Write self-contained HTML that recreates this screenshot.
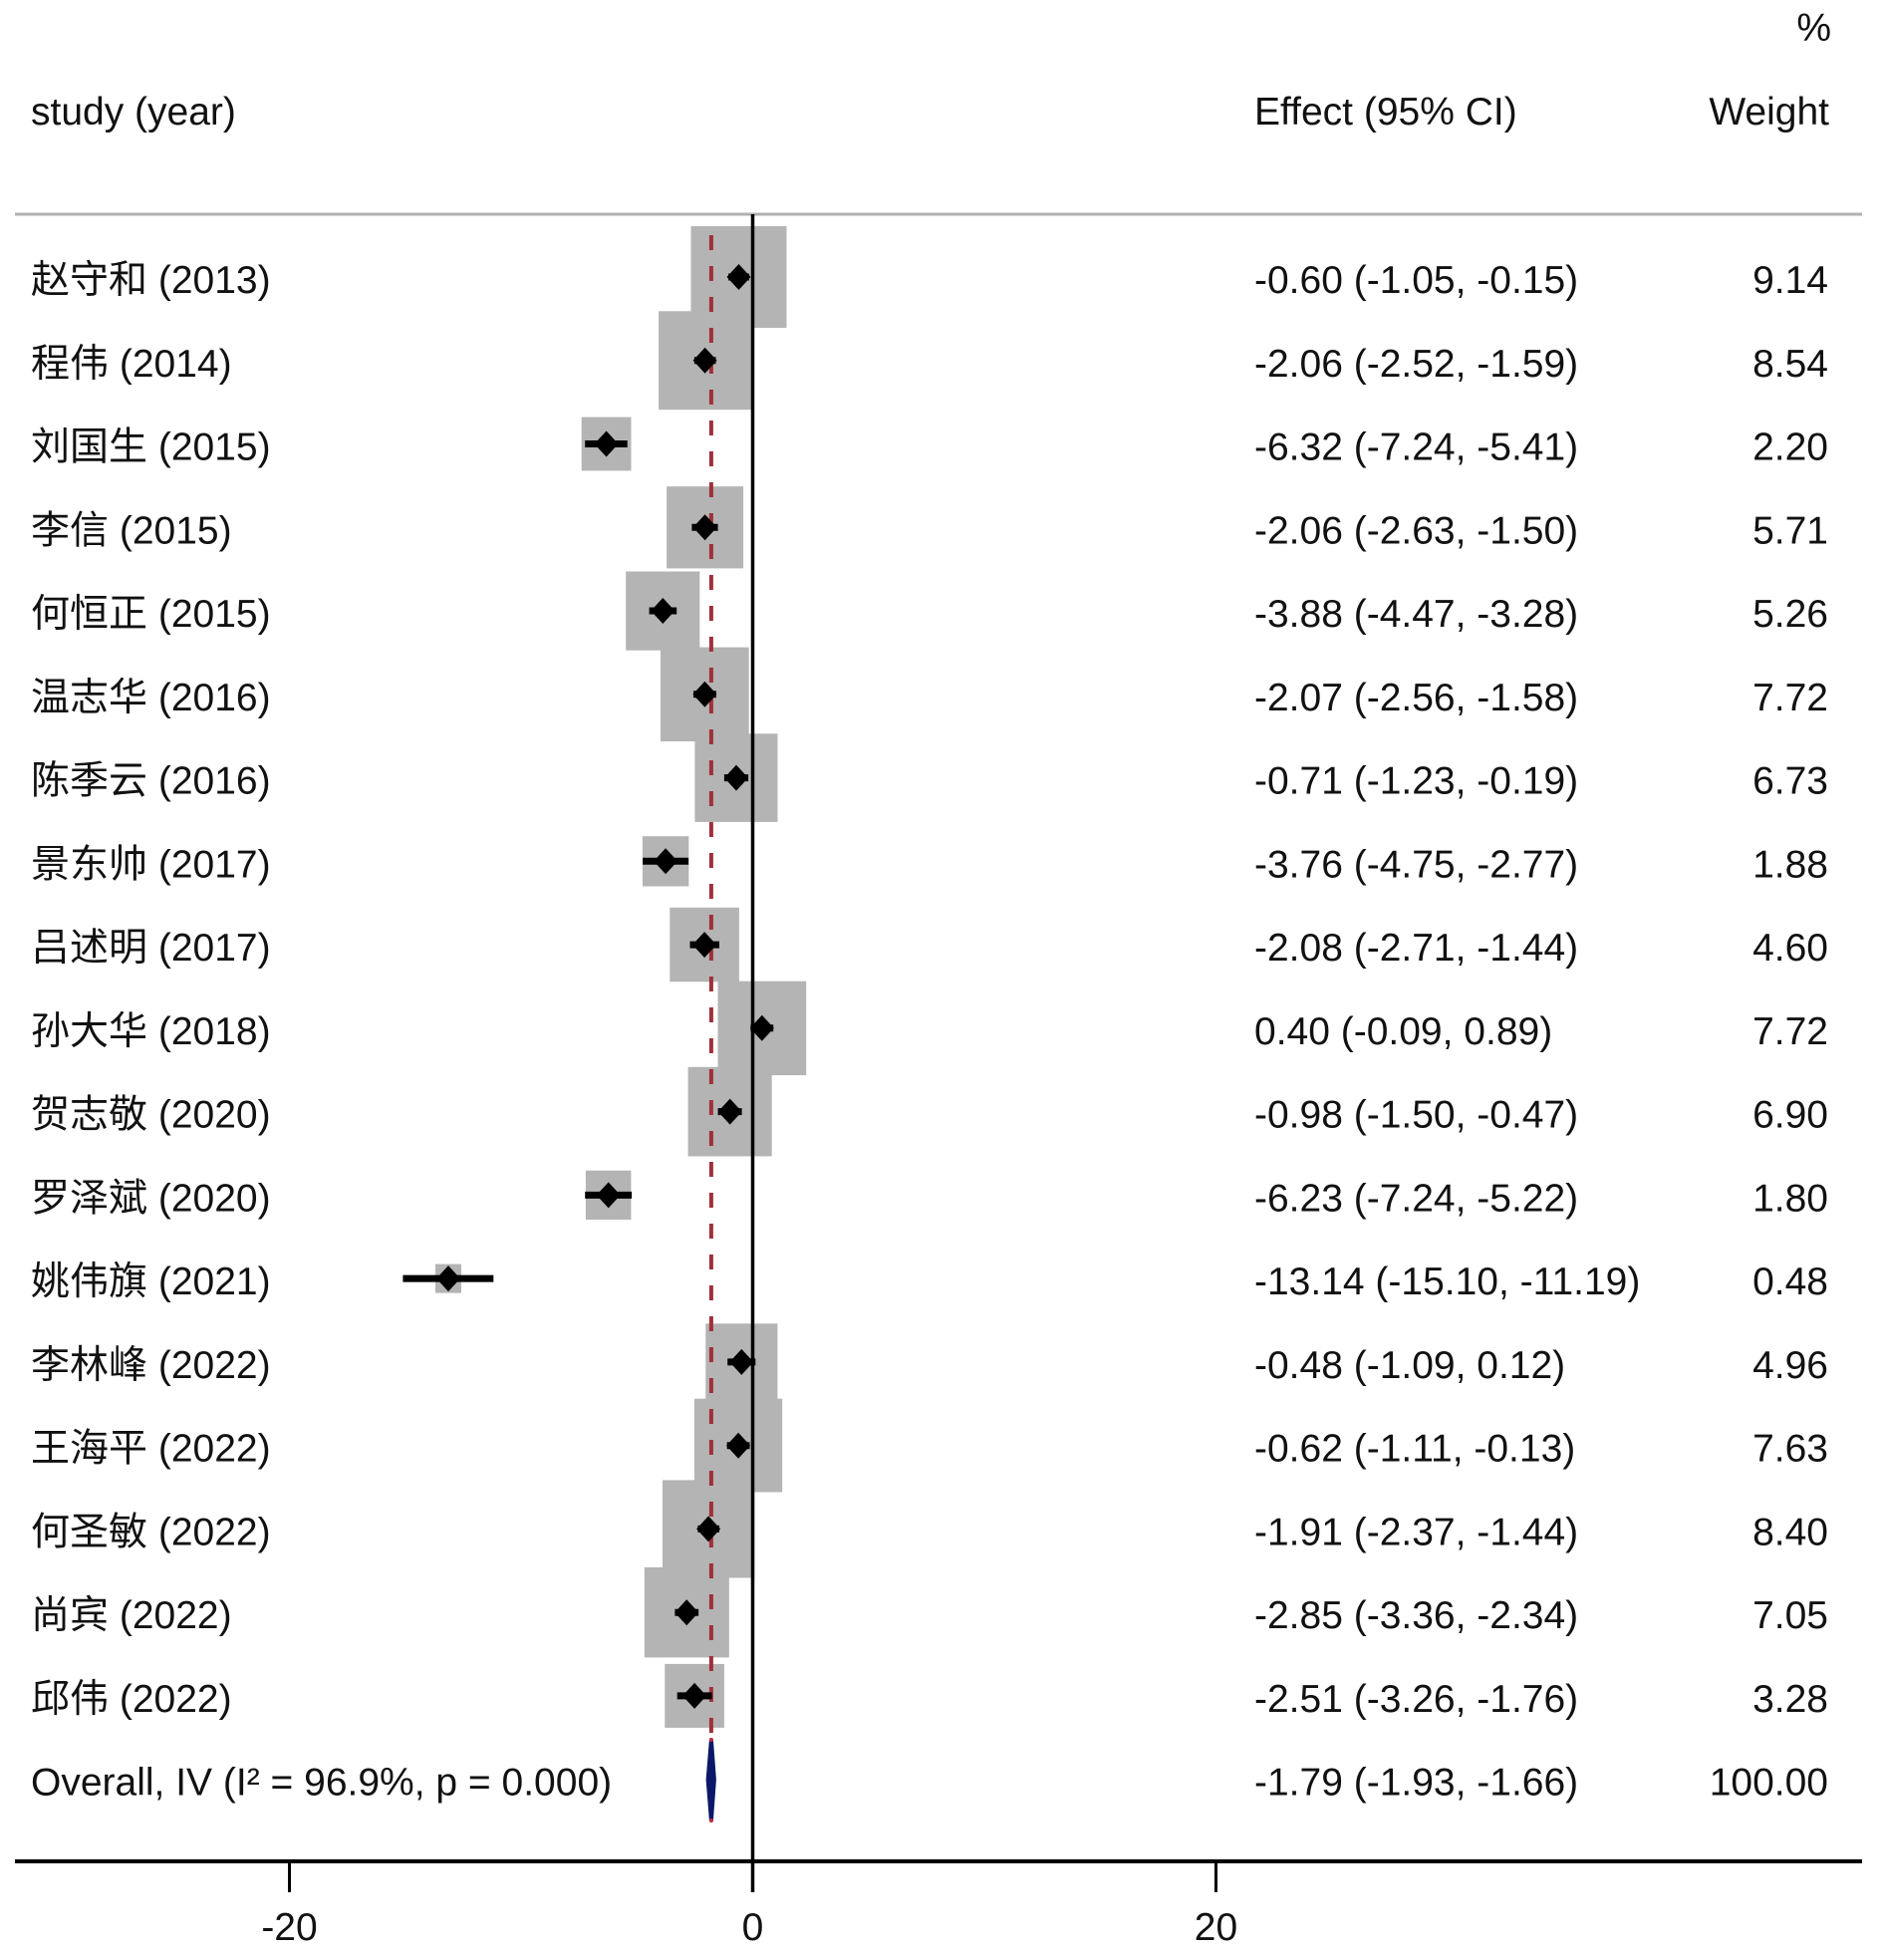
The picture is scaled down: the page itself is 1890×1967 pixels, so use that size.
<!DOCTYPE html>
<html>
<head>
<meta charset="utf-8">
<style>
html,body{margin:0;padding:0;background:#fff;}
svg{display:block;}
text{font-family:"Liberation Sans","Noto Sans CJK SC",sans-serif;font-size:39px;fill:#111;}
</style>
</head>
<body>
<svg width="1890" height="1967" viewBox="0 0 1890 1967" xmlns="http://www.w3.org/2000/svg">
<rect x="0" y="0" width="1890" height="1967" fill="#fff"/>
<!-- header -->
<text x="1838" y="41" text-anchor="end">%</text>
<text x="31" y="125">study (year)</text>
<text x="1259" y="125">Effect (95% CI)</text>
<text x="1836" y="125" text-anchor="end">Weight</text>
<line x1="15" y1="215" x2="1869" y2="215" stroke="#b0b0b0" stroke-width="3"/>

<g fill="#b4b4b4">
<rect x="693.5" y="227.0" width="96.0" height="102.0"/>
<rect x="661.1" y="312.3" width="93.0" height="98.9"/>
<rect x="583.7" y="418.6" width="49.8" height="53.8"/>
<rect x="669.1" y="488.2" width="77.0" height="82.2"/>
<rect x="628.2" y="573.5" width="74.1" height="79.2"/>
<rect x="663.0" y="649.6" width="88.7" height="94.4"/>
<rect x="697.4" y="736.3" width="83.1" height="88.6"/>
<rect x="644.9" y="839.2" width="46.4" height="50.3"/>
<rect x="672.3" y="910.8" width="69.6" height="74.5"/>
<rect x="720.5" y="984.7" width="88.7" height="94.4"/>
<rect x="690.6" y="1070.8" width="84.1" height="89.6"/>
<rect x="587.9" y="1174.7" width="45.5" height="49.3"/>
<rect x="437.0" y="1268.6" width="26.0" height="29.0"/>
<rect x="708.3" y="1328.3" width="72.1" height="77.1"/>
<rect x="697.0" y="1403.7" width="88.2" height="93.8"/>
<rect x="665.0" y="1485.4" width="92.3" height="98.1"/>
<rect x="646.8" y="1572.9" width="85.0" height="90.5"/>
<rect x="667.3" y="1669.9" width="59.6" height="64.0"/>
</g>

<!-- zero line -->
<line x1="755.5" y1="215" x2="755.5" y2="1899" stroke="#000" stroke-width="3.5"/>
<!-- dashed overall line -->
<line x1="713.9" y1="236" x2="713.9" y2="1746" stroke="#a0303a" stroke-width="4" stroke-dasharray="15 16"/>

<!-- CI lines -->
<g stroke="#000" stroke-width="7">
<line x1="731.1" y1="278" x2="752.0" y2="278"/>
<line x1="696.9" y1="361.8" x2="718.5" y2="361.8"/>
<line x1="587.2" y1="445.5" x2="629.7" y2="445.5"/>
<line x1="694.4" y1="529.3" x2="720.6" y2="529.3"/>
<line x1="651.6" y1="613" x2="679.2" y2="613"/>
<line x1="696.0" y1="696.8" x2="718.8" y2="696.8"/>
<line x1="726.9" y1="780.6" x2="751.1" y2="780.6"/>
<line x1="645.1" y1="864.3" x2="691.1" y2="864.3"/>
<line x1="692.5" y1="948.1" x2="722.0" y2="948.1"/>
<line x1="753.4" y1="1031.8" x2="776.2" y2="1031.8"/>
<line x1="720.6" y1="1115.6" x2="744.6" y2="1115.6"/>
<line x1="587.2" y1="1199.4" x2="634.1" y2="1199.4"/>
<line x1="404.4" y1="1283.1" x2="495.3" y2="1283.1"/>
<line x1="730.2" y1="1366.9" x2="758.3" y2="1366.9"/>
<line x1="729.7" y1="1450.7" x2="752.5" y2="1450.7"/>
<line x1="700.4" y1="1534.4" x2="722.0" y2="1534.4"/>
<line x1="677.4" y1="1618.2" x2="701.1" y2="1618.2"/>
<line x1="679.7" y1="1701.9" x2="714.6" y2="1701.9"/>
</g>

<!-- point diamonds -->
<g fill="#000">
<polygon points="729.5,278 741.5,265 753.5,278 741.5,291"/>
<polygon points="695.6,361.8 707.6,348.8 719.6,361.8 707.6,374.8"/>
<polygon points="596.6,445.5 608.6,432.5 620.6,445.5 608.6,458.5"/>
<polygon points="695.6,529.3 707.6,516.3 719.6,529.3 707.6,542.3"/>
<polygon points="653.3,613 665.3,600 677.3,613 665.3,626"/>
<polygon points="695.4,696.8 707.4,683.8 719.4,696.8 707.4,709.8"/>
<polygon points="727.0,780.6 739.0,767.6 751.0,780.6 739.0,793.6"/>
<polygon points="656.1,864.3 668.1,851.3 680.1,864.3 668.1,877.3"/>
<polygon points="695.1,948.1 707.1,935.1 719.1,948.1 707.1,961.1"/>
<polygon points="752.8,1031.8 764.8,1018.8 776.8,1031.8 764.8,1044.8"/>
<polygon points="720.7,1115.6 732.7,1102.6 744.7,1115.6 732.7,1128.6"/>
<polygon points="598.7,1199.4 610.7,1186.4 622.7,1199.4 610.7,1212.4"/>
<polygon points="438.0,1283.1 450.0,1270.1 462.0,1283.1 450.0,1296.1"/>
<polygon points="732.3,1366.9 744.3,1353.9 756.3,1366.9 744.3,1379.9"/>
<polygon points="729.1,1450.7 741.1,1437.7 753.1,1450.7 741.1,1463.7"/>
<polygon points="699.1,1534.4 711.1,1521.4 723.1,1534.4 711.1,1547.4"/>
<polygon points="677.2,1618.2 689.2,1605.2 701.2,1618.2 689.2,1631.2"/>
<polygon points="685.1,1701.9 697.1,1688.9 709.1,1701.9 697.1,1714.9"/>
</g>

<!-- overall diamond -->
<polygon points="710.6,1786 713.9,1746 716.9,1786 713.9,1827" fill="#0b1869" stroke="#0b1869" stroke-width="4" stroke-linejoin="round"/>
<circle cx="713.9" cy="1746" r="2" fill="#c03040"/>
<circle cx="713.9" cy="1827" r="2" fill="#c03040"/>

<!-- axis -->
<line x1="15" y1="1868" x2="1869" y2="1868" stroke="#000" stroke-width="4"/>
<line x1="290.5" y1="1868" x2="290.5" y2="1899" stroke="#000" stroke-width="3"/>
<line x1="1220.5" y1="1868" x2="1220.5" y2="1899" stroke="#000" stroke-width="3"/>
<text x="290.5" y="1947" text-anchor="middle">-20</text>
<text x="755.5" y="1947" text-anchor="middle">0</text>
<text x="1220.5" y="1947" text-anchor="middle">20</text>

<!-- labels -->
<g>
<text x="31" y="294">赵守和 (2013)</text>
<text x="31" y="377.8">程伟 (2014)</text>
<text x="31" y="461.5">刘国生 (2015)</text>
<text x="31" y="545.3">李信 (2015)</text>
<text x="31" y="629">何恒正 (2015)</text>
<text x="31" y="712.8">温志华 (2016)</text>
<text x="31" y="796.6">陈季云 (2016)</text>
<text x="31" y="880.3">景东帅 (2017)</text>
<text x="31" y="964.1">吕述明 (2017)</text>
<text x="31" y="1047.8">孙大华 (2018)</text>
<text x="31" y="1131.6">贺志敬 (2020)</text>
<text x="31" y="1215.4">罗泽斌 (2020)</text>
<text x="31" y="1299.1">姚伟旗 (2021)</text>
<text x="31" y="1382.9">李林峰 (2022)</text>
<text x="31" y="1466.7">王海平 (2022)</text>
<text x="31" y="1550.4">何圣敏 (2022)</text>
<text x="31" y="1634.2">尚宾 (2022)</text>
<text x="31" y="1717.9">邱伟 (2022)</text>
<text x="31" y="1801.7">Overall, IV (I² = 96.9%, p = 0.000)</text>
</g>

<g>
<text x="1259" y="294">-0.60 (-1.05, -0.15)</text>
<text x="1259" y="377.8">-2.06 (-2.52, -1.59)</text>
<text x="1259" y="461.5">-6.32 (-7.24, -5.41)</text>
<text x="1259" y="545.3">-2.06 (-2.63, -1.50)</text>
<text x="1259" y="629">-3.88 (-4.47, -3.28)</text>
<text x="1259" y="712.8">-2.07 (-2.56, -1.58)</text>
<text x="1259" y="796.6">-0.71 (-1.23, -0.19)</text>
<text x="1259" y="880.3">-3.76 (-4.75, -2.77)</text>
<text x="1259" y="964.1">-2.08 (-2.71, -1.44)</text>
<text x="1259" y="1047.8">0.40 (-0.09, 0.89)</text>
<text x="1259" y="1131.6">-0.98 (-1.50, -0.47)</text>
<text x="1259" y="1215.4">-6.23 (-7.24, -5.22)</text>
<text x="1259" y="1299.1">-13.14 (-15.10, -11.19)</text>
<text x="1259" y="1382.9">-0.48 (-1.09, 0.12)</text>
<text x="1259" y="1466.7">-0.62 (-1.11, -0.13)</text>
<text x="1259" y="1550.4">-1.91 (-2.37, -1.44)</text>
<text x="1259" y="1634.2">-2.85 (-3.36, -2.34)</text>
<text x="1259" y="1717.9">-2.51 (-3.26, -1.76)</text>
<text x="1259" y="1801.7">-1.79 (-1.93, -1.66)</text>
</g>

<g text-anchor="end">
<text x="1835" y="294">9.14</text>
<text x="1835" y="377.8">8.54</text>
<text x="1835" y="461.5">2.20</text>
<text x="1835" y="545.3">5.71</text>
<text x="1835" y="629">5.26</text>
<text x="1835" y="712.8">7.72</text>
<text x="1835" y="796.6">6.73</text>
<text x="1835" y="880.3">1.88</text>
<text x="1835" y="964.1">4.60</text>
<text x="1835" y="1047.8">7.72</text>
<text x="1835" y="1131.6">6.90</text>
<text x="1835" y="1215.4">1.80</text>
<text x="1835" y="1299.1">0.48</text>
<text x="1835" y="1382.9">4.96</text>
<text x="1835" y="1466.7">7.63</text>
<text x="1835" y="1550.4">8.40</text>
<text x="1835" y="1634.2">7.05</text>
<text x="1835" y="1717.9">3.28</text>
<text x="1835" y="1801.7">100.00</text>
</g>
</svg>
</body>
</html>
